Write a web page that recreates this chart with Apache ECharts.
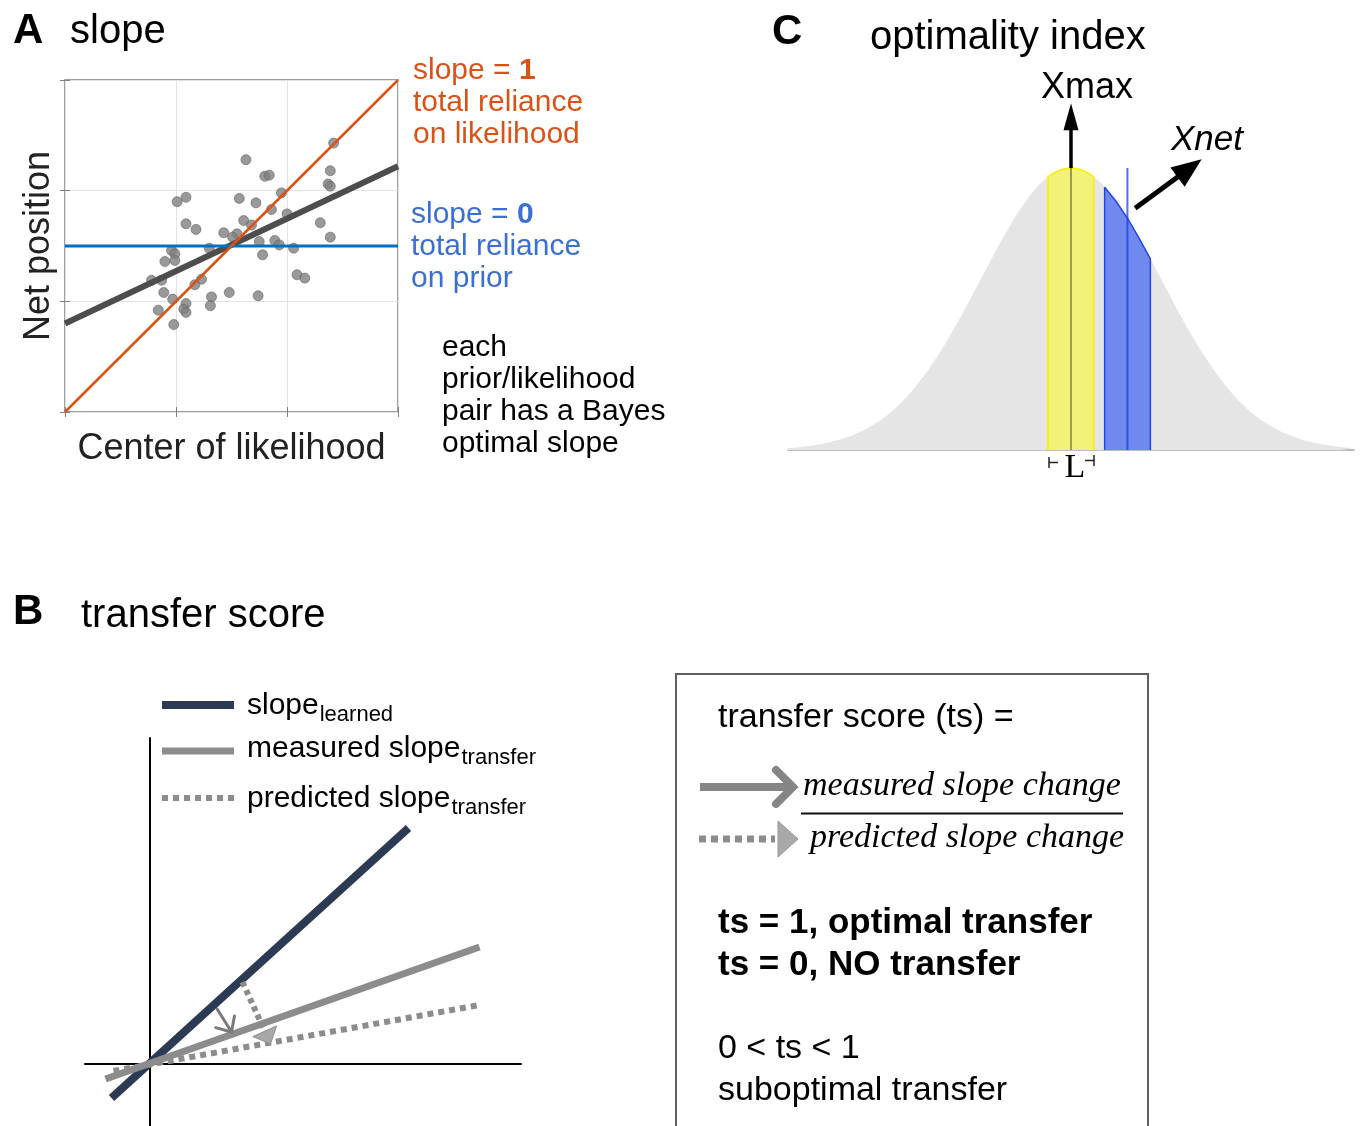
<!DOCTYPE html>
<html>
<head>
<meta charset="utf-8">
<script src="https://cdn.jsdelivr.net/npm/echarts@6/dist/echarts.min.js"></script>
<style>
  html, body { margin: 0; padding: 0; background: #fff; }
  #chart { width: 1361px; height: 1126px; }
</style>
</head>
<body>
<div id="chart"></div>
<script>
// ---------- Panel A: net position against center of likelihood ----------
const likelihoodCenter = [2.42, 1.63, 1.80, 1.84, 2.39, 2.37, 2.39, 1.09, 1.01, 1.57,
  1.72, 1.95, 1.86, 2.00, 1.09, 1.18, 1.61, 1.68, 1.43, 1.55,
  1.51, 2.30, 2.39, 1.75, 1.89, 1.93, 2.06, 1.30, 0.96, 0.99,
  0.99, 0.90, 1.78, 0.78, 0.87, 1.17, 1.23, 0.89, 2.09, 2.16,
  1.48, 1.32, 1.74, 0.97, 1.09, 1.07, 1.09, 0.84, 1.31, 0.98];
const netPosition = [2.43, 2.28, 2.13, 2.14, 2.18, 2.06, 2.04, 1.94, 1.90, 1.93,
  1.89, 1.98, 1.83, 1.79, 1.70, 1.65, 1.73, 1.69, 1.62, 1.61,
  1.58, 1.71, 1.58, 1.54, 1.55, 1.51, 1.48, 1.48, 1.46, 1.43,
  1.37, 1.36, 1.42, 1.19, 1.19, 1.15, 1.20, 1.08, 1.24, 1.21,
  1.08, 1.04, 1.05, 1.02, 0.98, 0.93, 0.90, 0.92, 0.96, 0.79];
const refLineX = [0, 3];
const slopeOneY = [0, 3];        // total reliance on likelihood
const slopeZeroY = [1.5, 1.5];   // total reliance on prior
const fittedY = [0.80, 2.22];    // fitted slope through the trials

// ---------- Panel B: transfer score sketch ----------
const learnedX = [-0.38, 2.59],  learnedY = [-0.34, 2.36];
const measuredX = [-0.44, 3.30], measuredY = [-0.15, 1.17];
const predictedX = [-0.36, 3.30], predictedY = [-0.07, 0.59];
const measuredChange = [0.67, 0.56, 0.82, 0.32];   // from, to
const predictedChange = [0.93, 0.82, 1.21, 0.20];

// ---------- Panel C: optimality index ----------
const priorX = [-3.145, -3.0, -2.75, -2.5, -2.25, -2.0, -1.75, -1.5, -1.25, -1.0, -0.75, -0.5, -0.25, 0,
  0.25, 0.5, 0.75, 1.0, 1.25, 1.5, 1.75, 2.0, 2.25, 2.5, 2.75, 3.0, 3.145];
const priorY = [0.007, 0.011, 0.023, 0.044, 0.080, 0.135, 0.216, 0.325, 0.458, 0.607, 0.755, 0.883, 0.969, 1,
  0.969, 0.883, 0.755, 0.607, 0.458, 0.325, 0.216, 0.135, 0.080, 0.044, 0.023, 0.011, 0.007];
const maxBandX = [-0.256, -0.256, -0.2, -0.1, 0, 0.1, 0.2, 0.252, 0.252];
const maxBandY = [0, 0.968, 0.980, 0.995, 1, 0.995, 0.980, 0.969, 0];
const netBandX = [0.374, 0.374, 0.5, 0.625, 0.75, 0.882, 0.882];
const netBandY = [0, 0.932, 0.882, 0.823, 0.755, 0.678, 0];
const xmaxPos = 0, xnetPos = 0.627, peakHeight = 1;
const xmaxArrow = [0, 1.0, 0, 1.23];
const xnetArrow = [0.713, 0.857, 1.452, 1.031];

const SANS = '"Liberation Sans", Arial, Helvetica, sans-serif';
const SERIF = '"Liberation Serif", "Times New Roman", serif';
const TEXT_DY = 3;

const zip = (xs, ys) => xs.map((x, i) => [x, ys[i]]);

function textWidth(str, font) {
  const ctx = document.createElement('canvas').getContext('2d');
  ctx.font = font;
  return ctx.measureText(str).width;
}

function arrowSeries(xi, yi, seg, st) {
  return {
    type: 'custom', xAxisIndex: xi, yAxisIndex: yi, silent: true, clip: false, z: 10,
    data: [seg],
    encode: { x: [0, 2], y: [1, 3] },
    renderItem: function (params, api) {
      const a = api.coord([api.value(0), api.value(1)]);
      const b = api.coord([api.value(2), api.value(3)]);
      const dx = b[0] - a[0], dy = b[1] - a[1];
      const len = Math.hypot(dx, dy);
      const ux = dx / len, uy = dy / len, nx = -uy, ny = ux;
      const bx = b[0] - ux * st.headLen, by = b[1] - uy * st.headLen;
      const p1 = [bx + nx * st.headHalf, by + ny * st.headHalf];
      const p2 = [bx - nx * st.headHalf, by - ny * st.headHalf];
      const end = st.head === 'open' ? [b[0] - ux * 2, b[1] - uy * 2] : [bx + ux * 1, by + uy * 1];
      const children = [{
        type: 'line',
        shape: { x1: a[0], y1: a[1], x2: end[0], y2: end[1] },
        style: { stroke: st.color, lineWidth: st.lineWidth, lineDash: st.dash || null, lineCap: 'butt' }
      }];
      if (st.head === 'open') {
        children.push({ type: 'polyline', shape: { points: [p1, b, p2] },
          style: { stroke: st.color, lineWidth: st.headWidth, fill: null, lineCap: 'round', lineJoin: 'miter' } });
      } else {
        children.push({ type: 'polygon', shape: { points: [p1, b, p2] },
          style: { fill: st.headFill, stroke: st.headStroke || null, lineWidth: 1 } });
      }
      return { type: 'group', children: children };
    }
  };
}

function txt(x, y, text, size, extra) {
  extra = extra || {};
  return {
    type: 'text', x: x, y: y + TEXT_DY, silent: true, z: 100,
    scaleX: extra.scaleX || 1, scaleY: extra.scaleY || 1, rotation: extra.rotation || 0,
    style: {
      text: text, x: 0, y: 0,
      fontSize: size, fontFamily: extra.family || SANS,
      fontWeight: extra.weight || 'normal', fontStyle: extra.style || 'normal',
      fill: extra.color || '#000',
      align: extra.align || 'left', verticalAlign: 'middle',
      rich: extra.rich
    }
  };
}

// legend with subscripts for panel B
const legendFont = 30, subFont = 22;
function legendEntry(y, main, sub) {
  const w = textWidth(main, legendFont + 'px ' + SANS);
  return [txt(247, y, main, legendFont), txt(247 + w + 1, y + 9, sub, subFont)];
}

function seg(points, stroke, width) {
  return { type: 'polyline', silent: true, shape: { points: points }, style: { stroke: stroke, lineWidth: width, fill: null } };
}

const orange = '#d95319', blueText = '#3c6fd2';
const graphics = [
  // panel letters and titles
  txt(13, 28, 'A', 42, { weight: 'bold' }),
  txt(70, 29, 'slope', 40),
  txt(13, 609, 'B', 42, { weight: 'bold' }),
  txt(81, 613, 'transfer score', 40),
  txt(772, 29, 'C', 42, { weight: 'bold' }),
  txt(870, 35, 'optimality index', 40),

  // panel A annotations
  txt(413, 68, 'slope = {b|1}', 30, { color: orange,
    rich: { b: { fontWeight: 'bold', fontSize: 30, fontFamily: SANS, fill: orange } } }),
  txt(413, 100, 'total reliance', 30, { color: orange }),
  txt(413, 132, 'on likelihood', 30, { color: orange }),
  txt(411, 212, 'slope = {b|0}', 30, { color: blueText,
    rich: { b: { fontWeight: 'bold', fontSize: 30, fontFamily: SANS, fill: blueText } } }),
  txt(411, 244, 'total reliance', 30, { color: blueText }),
  txt(411, 276, 'on prior', 30, { color: blueText }),
  txt(442, 345, 'each', 30),
  txt(442, 377, 'prior/likelihood', 30),
  txt(442, 409, 'pair has a Bayes', 30),
  txt(442, 441, 'optimal slope', 30),

  // panel C annotations
  txt(1087, 85, 'Xmax', 36, { align: 'center' }),
  txt(1171, 137, 'Xnet', 35, { style: 'italic' }),
  txt(1075, 465, 'L', 34, { family: SERIF, align: 'center' }),
  seg([[1049, 457], [1049, 468]], '#222', 1.5),
  seg([[1049, 462.5], [1058, 462.5]], '#222', 1.5),
  seg([[1094, 455], [1094, 466]], '#222', 1.5),
  seg([[1085, 460.5], [1094, 460.5]], '#222', 1.5),

  // panel B legend
  { type: 'line', silent: true, shape: { x1: 162, y1: 705, x2: 234, y2: 705 }, style: { stroke: '#2c3a54', lineWidth: 8 } },
  { type: 'line', silent: true, shape: { x1: 162, y1: 751, x2: 234, y2: 751 }, style: { stroke: '#8c8c8c', lineWidth: 7 } },
  { type: 'line', silent: true, shape: { x1: 162, y1: 798, x2: 234, y2: 798 }, style: { stroke: '#8c8c8c', lineWidth: 6, lineDash: [6, 5] } },
  ...legendEntry(703, 'slope', 'learned'),
  ...legendEntry(746, 'measured slope', 'transfer'),
  ...legendEntry(796, 'predicted slope', 'transfer'),

  // panel B definition box
  { type: 'rect', silent: true, shape: { x: 676, y: 674, width: 472, height: 470 }, style: { fill: null, stroke: '#5f5f5f', lineWidth: 2 } },
  txt(718, 715, 'transfer score (ts) =', 34),
  { type: 'line', silent: true, shape: { x1: 700, y1: 787, x2: 789, y2: 787 }, style: { stroke: '#858585', lineWidth: 8 } },
  { type: 'polyline', silent: true, shape: { points: [[776, 770], [793, 787], [776, 804]] }, style: { stroke: '#858585', lineWidth: 8, fill: null, lineCap: 'round' } },
  txt(803, 783, 'measured slope change', 34, { family: SERIF, style: 'italic' }),
  { type: 'line', silent: true, shape: { x1: 801, y1: 813.5, x2: 1123, y2: 813.5 }, style: { stroke: '#111', lineWidth: 2 } },
  { type: 'line', silent: true, shape: { x1: 699, y1: 839, x2: 775, y2: 839 }, style: { stroke: '#8c8c8c', lineWidth: 7, lineDash: [7, 5] } },
  { type: 'polygon', silent: true, shape: { points: [[778, 821], [798, 839], [778, 857]] }, style: { fill: '#a9a9a9', stroke: '#999', lineWidth: 1 } },
  txt(810, 835, 'predicted slope change', 34, { family: SERIF, style: 'italic' }),
  txt(718, 920, 'ts = 1, optimal transfer', 35, { weight: 'bold' }),
  txt(718, 962, 'ts = 0, NO transfer', 35, { weight: 'bold' }),
  txt(718, 1046, '0 < ts < 1', 34),
  txt(718, 1088, 'suboptimal transfer', 34)
];

const hiddenAxis = {
  axisLine: { show: false }, axisTick: { show: false }, axisLabel: { show: false }, splitLine: { show: false }
};
const boxTick = { show: true, inside: true, length: 5, lineStyle: { color: '#808080', width: 1 } };

const option = {
  animation: false,
  backgroundColor: '#fff',
  grid: [
    { left: 65, top: 80, width: 333, height: 332, show: true, borderColor: '#808080', borderWidth: 1.5, backgroundColor: '#fff' },
    { left: 85, top: 738, width: 436, height: 388 },
    { left: 788, top: 55.2, width: 566, height: 394.8 }
  ],
  xAxis: [
    { gridIndex: 0, type: 'value', min: 0, max: 3, interval: 1,
      axisLine: { show: false }, axisTick: boxTick, axisLabel: { show: false },
      splitLine: { show: true, lineStyle: { color: '#e3e3e3', width: 1 } },
      name: 'Center of likelihood', nameLocation: 'middle', nameGap: 19,
      nameTextStyle: { fontSize: 36, fontFamily: SANS, color: '#222' } },
    { gridIndex: 0, type: 'value', min: 0, max: 3, interval: 1, position: 'top',
      axisLine: { show: false }, axisTick: boxTick, axisLabel: { show: false }, splitLine: { show: false } },
    { gridIndex: 1, type: 'value', min: -0.645, max: 3.715,
      axisLine: { show: true, onZero: true, lineStyle: { color: '#000', width: 2 } },
      axisTick: { show: false }, axisLabel: { show: false }, splitLine: { show: false } },
    { gridIndex: 2, type: 'value', min: -3.145, max: 3.145,
      axisLine: { show: true, lineStyle: { color: '#a8a8a8', width: 1.5 } },
      axisTick: { show: false }, axisLabel: { show: false }, splitLine: { show: false } }
  ],
  yAxis: [
    { gridIndex: 0, type: 'value', min: 0, max: 3, interval: 1,
      axisLine: { show: false }, axisTick: boxTick, axisLabel: { show: false },
      splitLine: { show: true, lineStyle: { color: '#e3e3e3', width: 1 } },
      name: 'Net position', nameLocation: 'middle', nameGap: 8,
      nameTextStyle: { fontSize: 36, fontFamily: SANS, color: '#222' } },
    { gridIndex: 0, type: 'value', min: 0, max: 3, interval: 1, position: 'right',
      axisLine: { show: false }, axisTick: boxTick, axisLabel: { show: false }, splitLine: { show: false } },
    { gridIndex: 1, type: 'value', min: -0.62, max: 3.26,
      axisLine: { show: true, onZero: true, lineStyle: { color: '#000', width: 2 } },
      axisTick: { show: false }, axisLabel: { show: false }, splitLine: { show: false } },
    Object.assign({ gridIndex: 2, type: 'value', min: 0, max: 1.4 }, hiddenAxis)
  ],
  series: [
    // ----- A -----
    { type: 'scatter', xAxisIndex: 0, yAxisIndex: 0, silent: true, z: 2,
      data: zip(likelihoodCenter, netPosition), symbolSize: 10,
      itemStyle: { color: '#808080', borderColor: '#666', borderWidth: 0.8 } },
    { type: 'line', xAxisIndex: 0, yAxisIndex: 0, silent: true, z: 3, showSymbol: false,
      data: zip(refLineX, fittedY), lineStyle: { color: '#4d4d4d', width: 6 } },
    { type: 'line', xAxisIndex: 0, yAxisIndex: 0, silent: true, z: 4, showSymbol: false,
      data: zip(refLineX, slopeZeroY), lineStyle: { color: '#0072bd', width: 3 } },
    { type: 'line', xAxisIndex: 0, yAxisIndex: 0, silent: true, z: 4, showSymbol: false,
      data: zip(refLineX, slopeOneY), lineStyle: { color: orange, width: 2.5 } },

    // ----- B -----
    { type: 'line', xAxisIndex: 2, yAxisIndex: 2, silent: true, z: 3, showSymbol: false,
      data: zip(learnedX, learnedY), lineStyle: { color: '#2c3a54', width: 8, cap: 'butt' } },
    { type: 'line', xAxisIndex: 2, yAxisIndex: 2, silent: true, z: 4, showSymbol: false,
      data: zip(measuredX, measuredY), lineStyle: { color: '#8c8c8c', width: 7, cap: 'butt' } },
    { type: 'line', xAxisIndex: 2, yAxisIndex: 2, silent: true, z: 4, showSymbol: false,
      data: zip(predictedX, predictedY), lineStyle: { color: '#8c8c8c', width: 6, type: [6, 5], cap: 'butt' } },
    arrowSeries(2, 2, measuredChange, { color: '#7a7a7a', lineWidth: 3, head: 'open', headLen: 12, headHalf: 11, headWidth: 3 }),
    arrowSeries(2, 2, predictedChange, { color: '#8c8c8c', lineWidth: 6, dash: [5, 4], head: 'fill', headLen: 14, headHalf: 13, headFill: '#a8a8a8', headStroke: '#8f8f8f' }),

    // ----- C -----
    { type: 'line', xAxisIndex: 3, yAxisIndex: 3, silent: true, z: 1, showSymbol: false,
      smooth: 0.4,
      data: zip(priorX, priorY), lineStyle: { width: 0 }, areaStyle: { color: '#e5e5e5', opacity: 1 } },
    { type: 'line', xAxisIndex: 3, yAxisIndex: 3, silent: true, z: 3, showSymbol: false,
      data: zip(maxBandX, maxBandY), lineStyle: { color: '#f6f020', width: 2 },
      areaStyle: { color: '#f2f27a', opacity: 1 } },
    { type: 'line', xAxisIndex: 3, yAxisIndex: 3, silent: true, z: 3, showSymbol: false,
      data: zip(netBandX, netBandY), lineStyle: { color: '#2346e6', width: 1.5 },
      areaStyle: { color: '#7089ef', opacity: 1 } },
    { type: 'line', xAxisIndex: 3, yAxisIndex: 3, silent: true, z: 5, showSymbol: false,
      data: [[xmaxPos, 0], [xmaxPos, peakHeight]], lineStyle: { color: 'rgba(70,70,40,0.5)', width: 2 } },
    { type: 'line', xAxisIndex: 3, yAxisIndex: 3, silent: true, z: 5, showSymbol: false,
      data: [[xnetPos, 0], [xnetPos, peakHeight]], lineStyle: { color: 'rgba(30,60,225,0.75)', width: 2 } },
    arrowSeries(3, 3, xmaxArrow, { color: '#000', lineWidth: 3.5, head: 'fill', headLen: 27, headHalf: 7.5, headFill: '#000' }),
    arrowSeries(3, 3, xnetArrow, { color: '#000', lineWidth: 5, head: 'fill', headLen: 30, headHalf: 12, headFill: '#000' })
  ],
  graphic: { elements: graphics }
};

const chart = echarts.init(document.getElementById('chart'), null, { renderer: 'canvas' });
chart.setOption(option);
</script>
</body>
</html>
